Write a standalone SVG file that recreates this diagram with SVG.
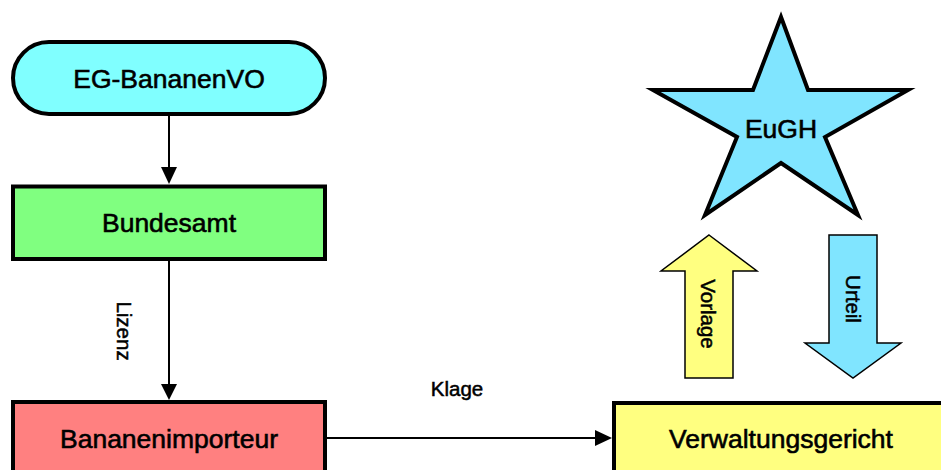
<svg xmlns="http://www.w3.org/2000/svg" width="941" height="470" viewBox="0 0 941 470">
  <style>
    .box { stroke: #000; stroke-width: 4; }
    .lbl { font-family: "Liberation Sans", Arial, sans-serif; font-size: 26.5px; fill: #000; stroke: #000; stroke-width: 0.6; text-anchor: middle; }
    .edge { font-family: "Liberation Sans", Arial, sans-serif; font-size: 20.5px; fill: #000; stroke: #000; stroke-width: 0.5; text-anchor: middle; }
    .conn { stroke: #000; stroke-width: 2; fill: none; }
    .fat { stroke: #000; stroke-width: 1.5; }
  </style>
  <rect width="941" height="470" fill="#fff"/>

  <g id="connectors">
    <line class="conn" x1="169" y1="116" x2="169" y2="168"/>
    <path d="M161,167 L177,167 L169,184 Z" fill="#000"/>
    <line class="conn" x1="169" y1="261" x2="169" y2="385"/>
    <path d="M161,384 L177,384 L169,400 Z" fill="#000"/>
    <text class="edge" transform="translate(124,331) rotate(90)" dy="7">Lizenz</text>
    <line class="conn" x1="327" y1="438" x2="596" y2="438"/>
    <path d="M595,430 L612,438 L595,446 Z" fill="#000"/>
    <text class="edge" x="457" y="396">Klage</text>
  </g>

  <g id="eg-bananenvo">
    <rect class="box" x="13" y="42" width="312" height="72" rx="36" ry="36" fill="#80FFFF"/>
    <text class="lbl" x="169" y="87.5">EG-BananenVO</text>
  </g>

  <g id="bundesamt">
    <rect class="box" x="13" y="186.5" width="312" height="72.5" fill="#80FF80"/>
    <text class="lbl" x="169" y="232">Bundesamt</text>
  </g>

  <g id="bananenimporteur">
    <rect class="box" x="13" y="402" width="312" height="80" fill="#FF8080"/>
    <text class="lbl" x="169" y="448">Bananenimporteur</text>
  </g>

  <g id="verwaltungsgericht">
    <rect class="box" x="614" y="403" width="340" height="80" fill="#FFFF80"/>
    <text class="lbl" x="781" y="448">Verwaltungsgericht</text>
  </g>

  <g id="eugh">
    <polygon class="box" fill="#80E5FF" points="781,17 808,90 908,90 825,137 858,215 781,163 705,215 737,137 653,90 753,90"/>
    <text class="lbl" x="781" y="138">EuGH</text>
  </g>

  <g id="vorlage">
    <polygon class="fat" fill="#FFFF80" points="709,235 757,271 733,271 733,378 685,378 685,271 661,271"/>
    <text class="edge" transform="translate(708,314) rotate(90)" dy="7">Vorlage</text>
  </g>

  <g id="urteil">
    <polygon class="fat" fill="#80E5FF" points="829,235 877,235 877,343 901,343 853,378 805,343 829,343"/>
    <text class="edge" transform="translate(853,299) rotate(90)" dy="7">Urteil</text>
  </g>
</svg>
